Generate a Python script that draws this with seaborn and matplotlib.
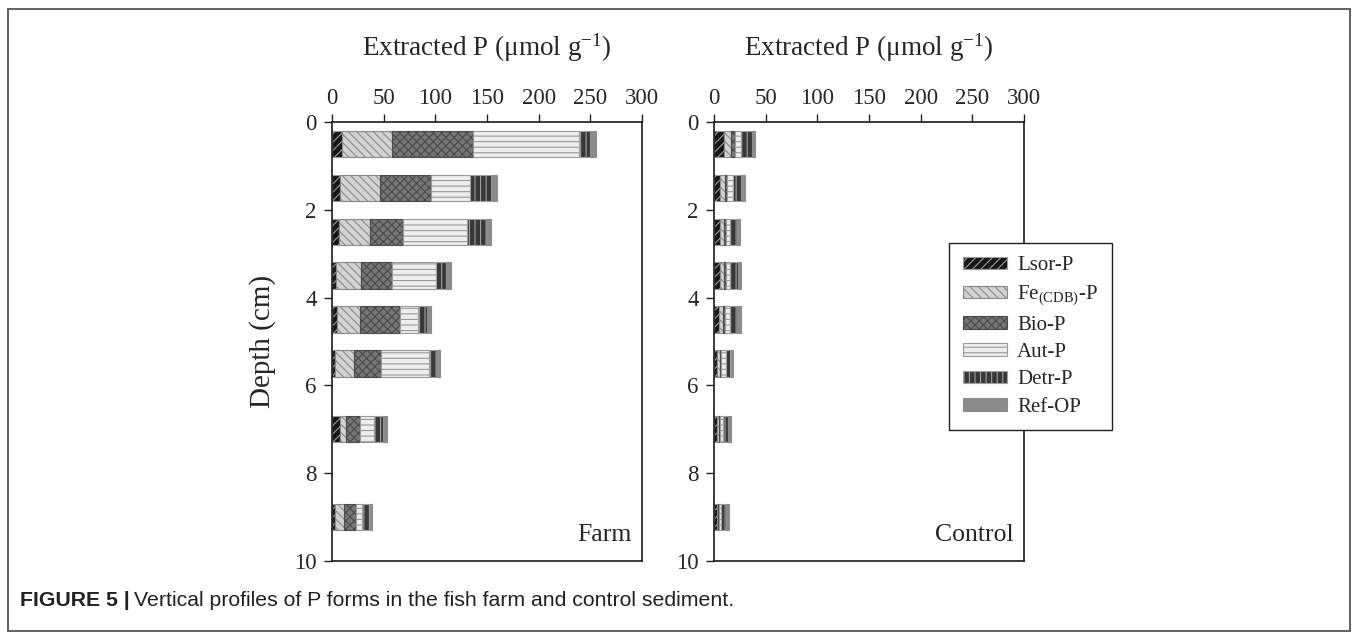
import numpy as np
import pandas as pd
import matplotlib
matplotlib.use("Agg")
import matplotlib.pyplot as plt
import seaborn as sns
from matplotlib.patches import Patch, Rectangle

# ---------------- data ----------------
depths = [0.5, 1.5, 2.5, 3.5, 4.5, 5.5, 7.0, 9.0]
components = ["Lsor-P", "Fe(CDB)-P", "Bio-P", "Aut-P", "Detr-P", "Ref-OP"]
legend_labels = ["Lsor-P", r"Fe$_{\mathregular{(CDB)}}$-P", "Bio-P", "Aut-P", "Detr-P", "Ref-OP"]

farm_lsor = [9.4, 7.4, 6.5, 4.2, 5.2, 2.9, 7.4, 2.6]
farm_fe   = [49.0, 39.4, 30.3, 24.2, 22.3, 18.7, 6.5, 8.7]
farm_bio  = [78.1, 48.7, 31.6, 29.7, 38.1, 25.8, 12.9, 12.3]
farm_aut  = [102.6, 38.1, 61.9, 42.6, 18.1, 46.5, 13.5, 5.2]
farm_detr = [11.0, 21.3, 18.7, 10.0, 8.4, 7.1, 9.0, 7.7]
farm_ref  = [5.2, 5.2, 5.2, 4.2, 3.9, 3.5, 4.2, 2.6]

control_lsor = [9.7, 5.8, 5.5, 5.5, 4.5, 2.6, 2.6, 2.6]
control_fe   = [7.1, 5.2, 3.9, 3.9, 4.2, 3.2, 1.9, 1.3]
control_bio  = [3.2, 1.9, 1.9, 1.9, 1.6, 1.3, 1.0, 1.0]
control_aut  = [5.8, 5.8, 4.5, 4.5, 4.8, 4.5, 3.2, 2.3]
control_detr = [11.0, 7.1, 6.8, 7.4, 7.4, 4.5, 4.8, 4.5]
control_ref  = [3.2, 4.5, 2.6, 2.6, 3.2, 2.6, 3.2, 2.9]

x_ticks = [0, 50, 100, 150, 200, 250, 300]
y_ticks = [0, 2, 4, 6, 8, 10]

farm_values = [farm_lsor, farm_fe, farm_bio, farm_aut, farm_detr, farm_ref]
control_values = [control_lsor, control_fe, control_bio, control_aut, control_detr, control_ref]

rows = []
for site, vals in (("Farm", farm_values), ("Control", control_values)):
    cum = np.zeros(len(depths))
    for comp, v in zip(components, vals):
        for d, val, left in zip(depths, v, cum):
            rows.append(dict(site=site, component=comp, depth=d, value=val, left=left))
        cum = cum + np.array(v)
df = pd.DataFrame(rows)

# ---------------- styles ----------------
faces = ["#161616", "#d2d2d2", "#767676", "#eeeeee", "#383838", "#8c8c8c"]
edges = ["#9a9a9a", "#8a8a8a", "#4a4a4a", "#999999", "#a0a0a0", "#8c8c8c"]
hatches = ["////", "\\\\\\\\", "xxxx", "---", "|||", ""]

sns.set_style("ticks")
plt.rcParams["font.family"] = ["Liberation Serif", "DejaVu Serif"]
plt.rcParams["mathtext.fontset"] = "custom"
plt.rcParams["mathtext.rm"] = "Liberation Serif"
plt.rcParams["mathtext.it"] = "Liberation Serif:italic"
plt.rcParams["mathtext.bf"] = "Liberation Serif:bold"
plt.rcParams["mathtext.default"] = "regular"
plt.rcParams["hatch.linewidth"] = 0.8

W, H = 1358, 639
fig = plt.figure(figsize=(W / 100, H / 100), dpi=100)

ax_w = (642 - 332) / W
ax_b = 1 - 561 / H
ax_h = (561 - 122) / H
ax_farm = fig.add_axes([332 / W, ax_b, ax_w, ax_h])
ax_ctrl = fig.add_axes([714 / W, ax_b, ax_w, ax_h])

for ax, site in ((ax_farm, "Farm"), (ax_ctrl, "Control")):
    for i, comp in enumerate(components):
        sub = df[(df.site == site) & (df.component == comp)].sort_values("depth")
        sns.barplot(data=sub, x="value", y="depth", orient="y", native_scale=True,
                    width=0.6, color=faces[i], saturation=1, errorbar=None, ax=ax,
                    left=sub["left"].values, edgecolor=edges[i], hatch=hatches[i],
                    linewidth=0.8)
    ax.set_xlim(0, 300)
    ax.set_ylim(10, 0)
    ax.set_xticks(x_ticks)
    ax.set_yticks(y_ticks)
    ax.xaxis.tick_top()
    ax.xaxis.set_label_position("top")
    ax.tick_params(axis="x", top=True, bottom=False, labeltop=True, labelbottom=False,
                   direction="out", length=6, width=1.0, pad=3, labelsize=16.5, color="#222222")
    ax.tick_params(axis="y", left=True, right=False, direction="out", length=6,
                   width=1.0, pad=5, labelsize=16.5, color="#222222")
    for sp in ax.spines.values():
        sp.set_visible(True)
        sp.set_linewidth(1.2)
        sp.set_color("#1a1a1a")
    ax.set_xlabel("Extracted P (\u03bcmol g$^{\\mathregular{-1}}$)", fontsize=19.5, labelpad=24)
    ax.set_ylabel("")
    ax.text(0.968, 0.035, site, transform=ax.transAxes, ha="right", va="bottom",
            fontsize=18.5)

ax_farm.set_ylabel("Depth (cm)", fontsize=21, labelpad=13)

handles = [Patch(facecolor=faces[i], edgecolor=edges[i], hatch=hatches[i], linewidth=0.8)
           for i in range(len(components))]
leg = fig.legend(handles, legend_labels, loc="center",
                 bbox_to_anchor=(1030.5 / W, 1 - 336.5 / H),
                 frameon=True, fancybox=False, edgecolor="#222222", framealpha=1,
                 fontsize=15, handlelength=2.1, handleheight=0.55, handletextpad=0.5,
                 labelspacing=0.4, borderpad=0.65)
leg.get_frame().set_linewidth(1.0)

# outer frame
fig.patches.append(Rectangle((8 / W, 1 - 631 / H), (1350 - 8) / W, (631 - 9) / H,
                             transform=fig.transFigure, fill=False,
                             edgecolor="#555555", linewidth=1.3))

# caption
cap_font = ["Liberation Sans Narrow", "Liberation Sans", "DejaVu Sans"]
t1 = fig.text(20 / W, 1 - 601 / H, "FIGURE 5 |", fontsize=15.3, fontweight="bold",
              family=cap_font, va="center", ha="left", color="#222222")
fig.canvas.draw()
bb = t1.get_window_extent(renderer=fig.canvas.get_renderer())
fig.text((bb.x1 + 4) / W, 1 - 601 / H,
         "Vertical profiles of P forms in the fish farm and control sediment.",
         fontsize=15.3, family=cap_font, va="center", ha="left", color="#222222")

fig.savefig("out.png", dpi=100)
